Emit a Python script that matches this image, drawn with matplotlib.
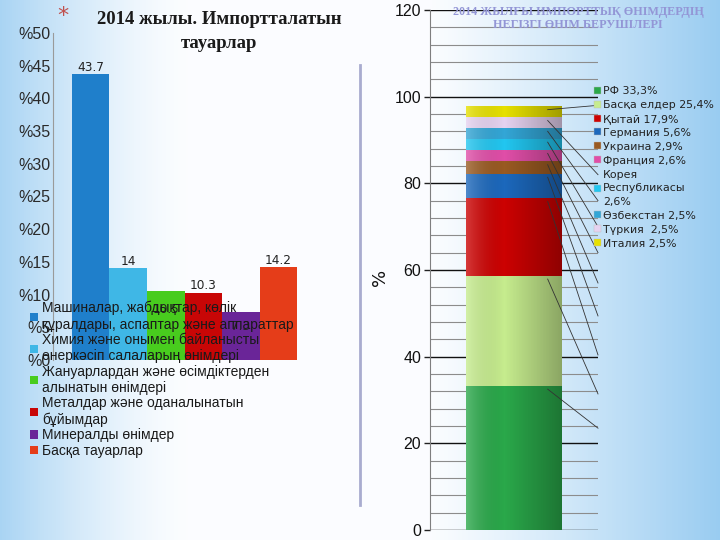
import matplotlib
matplotlib.use("Agg")
import matplotlib.pyplot as plt
import numpy as np
from matplotlib.patches import Patch
from matplotlib.lines import Line2D

# ---------------- data ----------------
left_categories = [
    "Машиналар, жабдықтар, көлік\nқұралдары, аспаптар және аппараттар",
    "Химия және онымен байланысты\nөнеркәсіп салаларың өнімдері",
    "Жануарлардан және өсімдіктерден\nалынатын өнімдері",
    "Металдар және оданалынатын\nбұйымдар",
    "Минералды өнімдер",
    "Басқа тауарлар",
]
left_values = [43.7, 14, 10.5, 10.3, 7.3, 14.2]
left_ticks = [0, 5, 10, 15, 20, 25, 30, 35, 40, 45, 50]
left_tick_labels = ["%" + str(t) for t in left_ticks]

right_categories = [
    "РФ 33,3%", "Басқа елдер 25,4%", "Қытай 17,9%", "Германия 5,6%",
    "Украина 2,9%", "Франция 2,6%", "Корея\nРеспубликасы\n2,6%",
    "Өзбекстан 2,5%", "Түркия  2,5%", "Италия 2,5%",
]
right_values = [33.3, 25.4, 17.9, 5.6, 2.9, 2.6, 2.6, 2.5, 2.5, 2.5]
right_ticks = [0, 20, 40, 60, 80, 100, 120]

# ---------------- styles ----------------
left_colors = ["#1F7FCB", "#3FB7E6", "#48CC1E", "#C80606", "#6A2598", "#E53D19"]
left_label_offsets_pt = [5, 5, -13, 5, -10, 5]
right_colors = ["#2AA84A", "#C6EC8E", "#CC0202", "#1C68BC", "#995A22",
                "#E04EA8", "#22C6F0", "#33A6D6", "#E6D2F0", "#E6E000"]
leader_end_levels = [23.5, 31.4, 40.4, 49.4, 57, 64, 70, 76, 82, 98]

fig = plt.figure(figsize=(7.2, 5.4), dpi=100)

# background gradient (slide)
bg = fig.add_axes([0, 0, 1, 1], zorder=-10)
bg.axis("off")
X, Y = np.meshgrid(np.linspace(0, 1, 360), np.linspace(0, 1, 270))
wl = np.clip(1 - X / 0.26, 0, 1) ** 1.4 * 0.75
wr = np.clip((X - 0.60) / 0.40, 0, 1) ** 1.1 * 0.9
w = np.maximum(wl, wr)
white = np.array([0.985, 0.992, 1.0])
blue = np.array([0.56, 0.78, 0.94])
img = white * (1 - w[..., None]) + blue * w[..., None]
bg.imshow(img, extent=[0, 1, 0, 1], aspect="auto", origin="upper")
bg.set_xlim(0, 1)
bg.set_ylim(0, 1)

# ---------------- left chart ----------------
ax1 = fig.add_axes([53 / 720, 180 / 540, 263 / 720, 327 / 540])
ax1.patch.set_alpha(0)
xs = np.arange(len(left_values))
ax1.bar(xs, left_values, width=1.0, color=left_colors, zorder=2)
ax1.set_xlim(-1.0, 6.0)
ax1.set_ylim(0, 50)
ax1.set_yticks(left_ticks)
ax1.set_yticklabels(left_tick_labels, fontsize=11.5, color="#2a2a2a",
                    family="Liberation Sans")
ax1.tick_params(axis="y", length=0, pad=2)
ax1.set_xticks([])
for s in ["top", "right", "bottom"]:
    ax1.spines[s].set_visible(False)
ax1.spines["left"].set_color("#9a9a9a")
for i, v in enumerate(left_values):
    ax1.annotate(f"{v:g}", (xs[i], v), xytext=(0, left_label_offsets_pt[i]),
                 textcoords="offset points", ha="center", va="center",
                 fontsize=8.7, color="#222222", zorder=3)

fig.legend([Patch(facecolor=c) for c in left_colors], left_categories,
           loc="upper left", bbox_to_anchor=(30 / 720, 1 - 301 / 540),
           frameon=False, handlelength=0.55, handleheight=0.55,
           handletextpad=0.35, labelspacing=0.1, borderaxespad=0, borderpad=0,
           prop={"family": "Liberation Sans", "size": 10}, labelcolor="#1a1a1a")

fig.text(219 / 720, 1 - 20 / 540, "2014 жылы. Импортталатын", ha="center",
         va="center", fontsize=13.5, weight="bold", family="Liberation Serif",
         color="#1a1a1a")
fig.text(219 / 720, 1 - 43 / 540, "тауарлар", ha="center", va="center",
         fontsize=13.5, weight="bold", family="Liberation Serif", color="#1a1a1a")
fig.text(63 / 720, 1 - 16 / 540, "*", ha="center", va="center", fontsize=16,
         color="#C0504D")

# divider
fig.add_artist(Line2D([360 / 720, 360 / 720], [1 - 65 / 540, 1 - 505 / 540],
                      transform=fig.transFigure, color="#A9ACCF", lw=2))

# ---------------- right chart ----------------
ax2 = fig.add_axes([430 / 720, 10 / 540, 168 / 720, 520 / 540])
ax2.patch.set_alpha(0)
bw = 0.571
bottoms = np.concatenate([[0], np.cumsum(right_values)[:-1]])
ax2.bar(np.zeros(len(right_values)), right_values, width=bw, bottom=bottoms,
        color=right_colors, zorder=3)
total = float(np.sum(right_values))
g = np.linspace(0, 1, 200)
rgba = np.zeros((1, 200, 4))
left_part = np.clip(1 - g / 0.4, 0, 1)
right_part = np.clip((g - 0.4) / 0.6, 0, 1)
rgba[0, :, :3] = (left_part[:, None] * 1.0)
rgba[0, :, 3] = left_part * 0.22 + right_part * 0.30
ax2.imshow(rgba, extent=[-bw / 2, bw / 2, 0, total], aspect="auto", zorder=4,
           interpolation="bilinear")
tops = np.cumsum(right_values)
x0 = bw / 2 - 0.085
for t, e in zip(tops, leader_end_levels):
    ax2.plot([x0, 0.5], [t - 0.8, e], color="#333333", lw=0.6, zorder=5,
             clip_on=False)

ax2.set_xlim(-0.5, 0.5)
ax2.set_ylim(0, 120)
ax2.set_yticks(right_ticks)
ax2.set_yticklabels([str(t) for t in right_ticks], fontsize=11.5,
                    family="Liberation Sans", color="#111111")
ax2.set_yticks(np.arange(0, 121, 4), minor=True)
ax2.tick_params(axis="y", which="major", length=4.3, width=1, color="#222222",
                pad=2)
ax2.tick_params(axis="y", which="minor", length=0)
ax2.set_xticks([])
ax2.grid(axis="y", which="major", color="#111111", lw=1.0, zorder=0)
ax2.grid(axis="y", which="minor", color="#8c8c8c", lw=0.8, zorder=0)
ax2.set_axisbelow(True)
for s in ["top", "right", "bottom"]:
    ax2.spines[s].set_visible(False)
ax2.spines["left"].set_color("#7f7f7f")

fig.text(380 / 720, 1 - 277 / 540, "%", rotation=90, ha="center", va="center",
         fontsize=13, color="#111111")

leg2 = fig.legend([Patch(facecolor=c, edgecolor="#bbbbbb", lw=0.3) for c in right_colors],
                  right_categories, loc="upper left",
                  bbox_to_anchor=(594 / 720, 1 - 86 / 540), frameon=False,
                  handlelength=0.6, handleheight=0.6, handletextpad=0.25,
                  labelspacing=0.36, borderaxespad=0, borderpad=0,
                  labelcolor="#222222",
                  prop={"family": "DejaVu Sans", "size": 7.9})
for t in leg2.get_texts():
    t.set_linespacing(1.45)

fig.text(578 / 720, 1 - 12 / 540, "2014 ЖЫЛҒЫ ИМПОРТТЫҚ ӨНІМДЕРДІҢ", ha="center",
         va="center", fontsize=8.7, weight="bold", family="Liberation Serif",
         color="#9396D6")
fig.text(578 / 720, 1 - 25 / 540, "НЕГІЗГІ ӨНІМ БЕРУШІЛЕРІ", ha="center",
         va="center", fontsize=8.7, weight="bold", family="Liberation Serif",
         color="#9396D6")

fig.savefig("out.png", dpi=100)
